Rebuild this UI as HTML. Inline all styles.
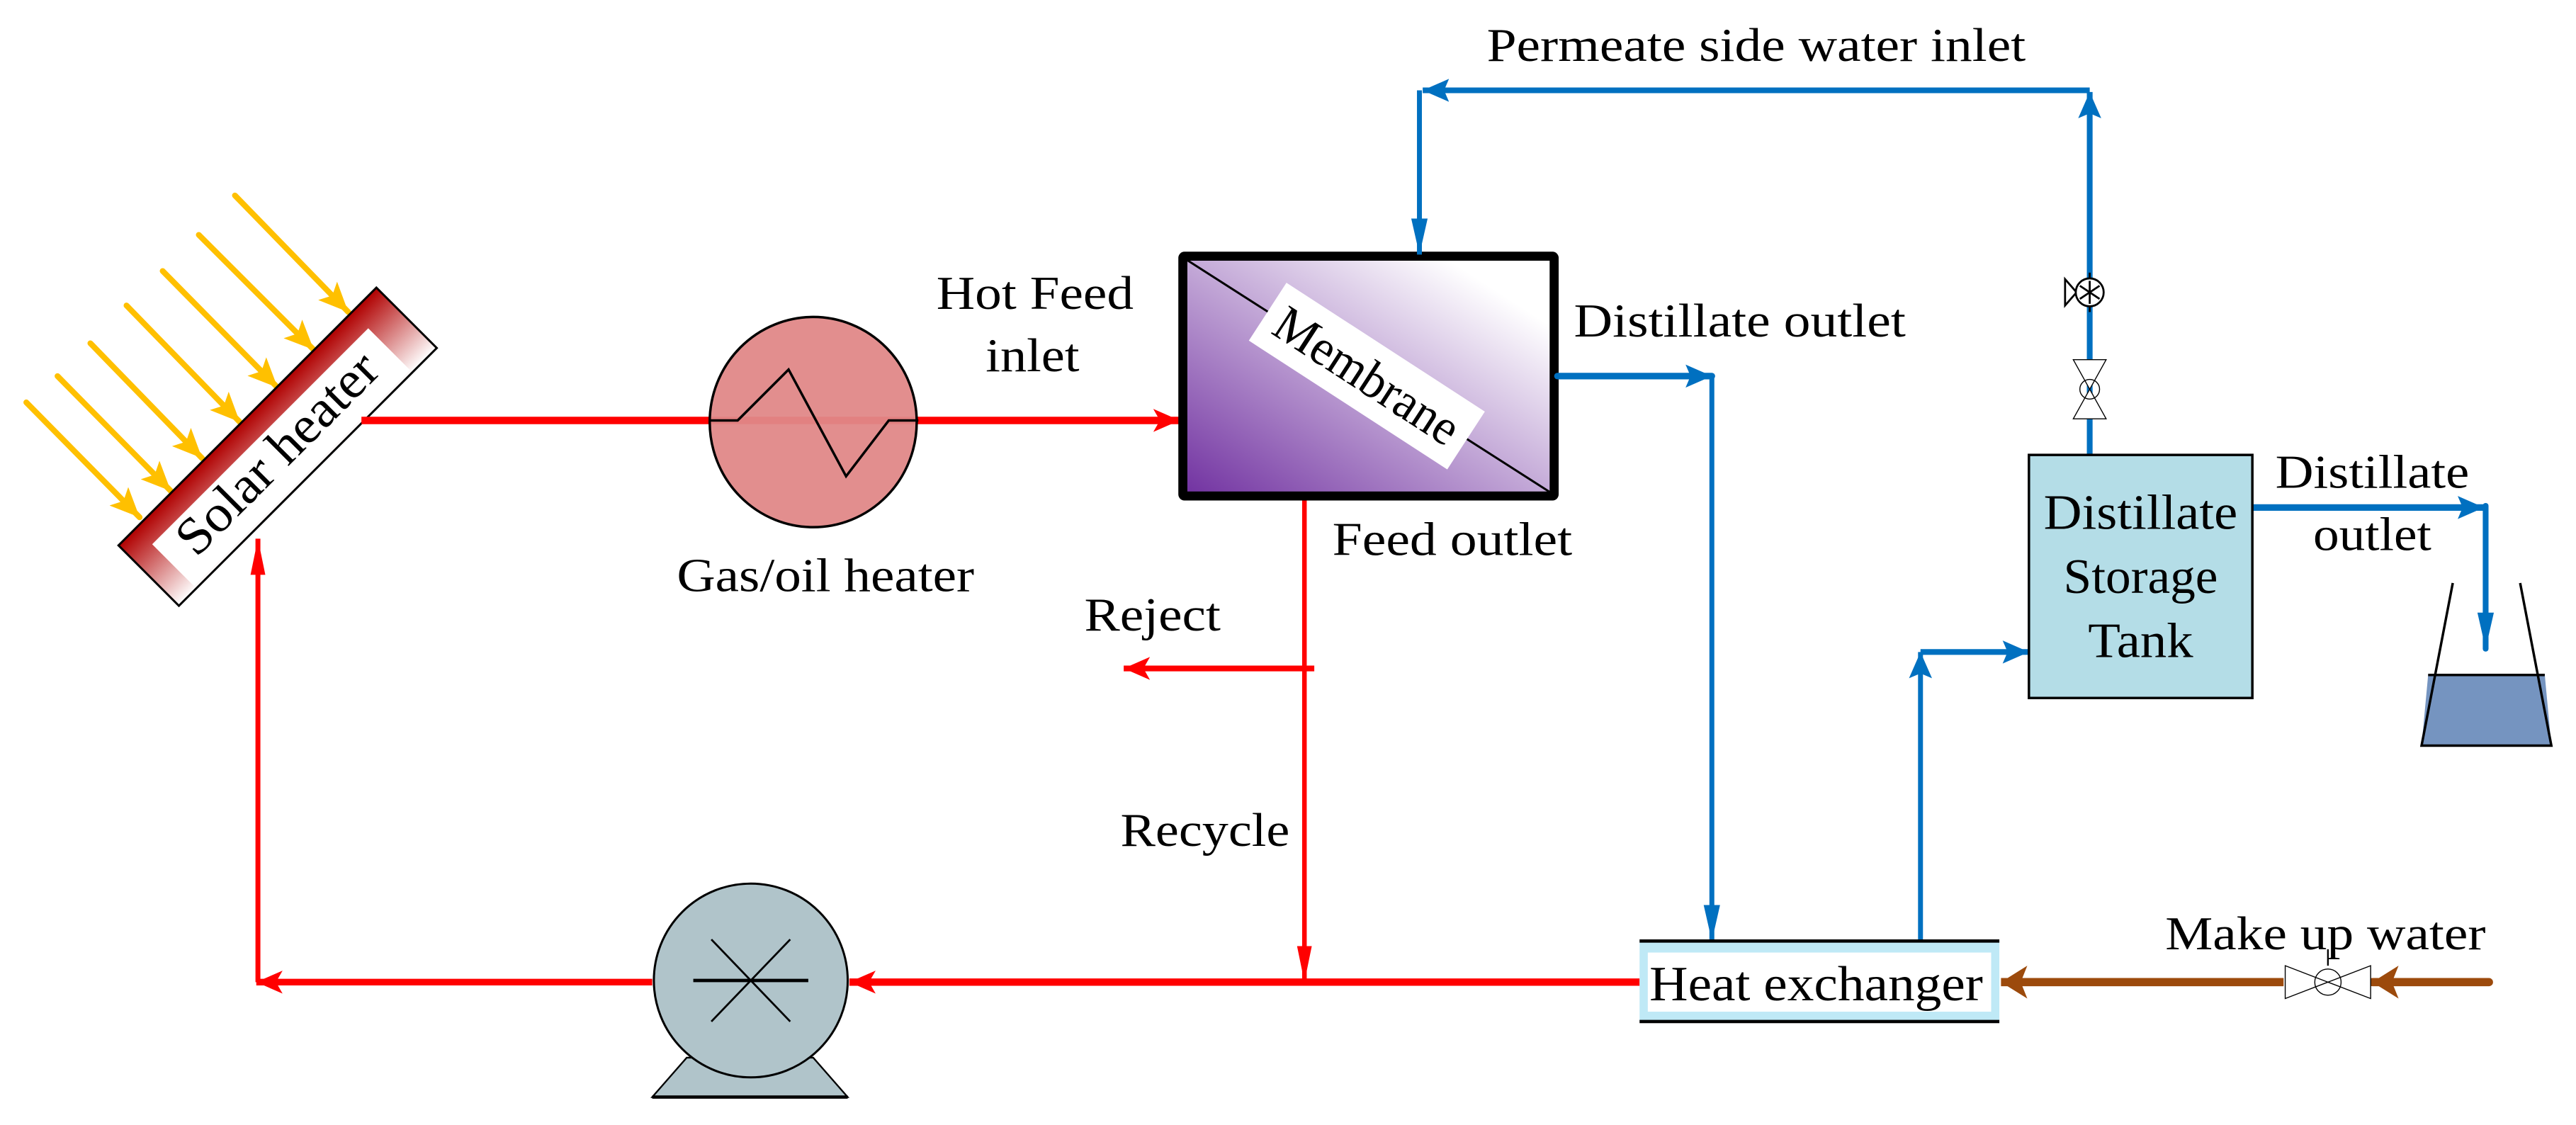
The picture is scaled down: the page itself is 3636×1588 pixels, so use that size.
<!DOCTYPE html>
<html><head><meta charset="utf-8"><style>html,body{margin:0;padding:0;background:#fff}svg{display:block}</style></head><body>
<svg width="3636" height="1588" viewBox="0 0 1568 685" preserveAspectRatio="none" xmlns="http://www.w3.org/2000/svg">
<defs>
<marker id="ar" markerUnits="userSpaceOnUse" markerWidth="18" markerHeight="16" refX="16" refY="8" orient="auto"><path d="M0,1 L16,8 L0,15 L4,8 z" fill="#ff0000"/></marker>
<marker id="ars" markerUnits="userSpaceOnUse" markerWidth="24" markerHeight="10" refX="22" refY="5" orient="auto"><path d="M0,0.5 L22,5 L0,9.5 z" fill="#ff0000"/></marker>
<marker id="ab" markerUnits="userSpaceOnUse" markerWidth="18" markerHeight="16" refX="16" refY="8" orient="auto"><path d="M0,1 L16,8 L0,15 L3,8 z" fill="#0070c0"/></marker>
<marker id="abs" markerUnits="userSpaceOnUse" markerWidth="24" markerHeight="12" refX="22" refY="6" orient="auto"><path d="M0,1 L22,6 L0,11 z" fill="#0070c0"/></marker>
<marker id="aw" markerUnits="userSpaceOnUse" markerWidth="18" markerHeight="20" refX="16" refY="10" orient="auto"><path d="M0,0 L16,10 L0,20 L4,10 z" fill="#9c4a0c"/></marker>
<marker id="ay" markerUnits="userSpaceOnUse" markerWidth="20" markerHeight="16" refX="18" refY="8" orient="auto"><path d="M0,0 L18,8 L0,16 L4,8 z" fill="#ffc000"/></marker>
<linearGradient id="sol" x1="0" y1="0" x2="0" y2="1"><stop offset="0" stop-color="#b00000"/><stop offset="1" stop-color="#ffffff"/></linearGradient>
<linearGradient id="mem" x1="0" y1="1" x2="0.85" y2="0.15"><stop offset="0" stop-color="#7030a0"/><stop offset="1" stop-color="#ffffff"/></linearGradient>
</defs>

<g stroke="#ffc000" stroke-width="3.5" stroke-linecap="round" marker-end="url(#ay)">
<line x1="143" y1="119" x2="212" y2="190"/>
<line x1="121" y1="143" x2="191" y2="213"/>
<line x1="99" y1="165" x2="169" y2="236"/>
<line x1="77" y1="186" x2="146" y2="257"/>
<line x1="55" y1="209" x2="123" y2="279"/>
<line x1="35" y1="229" x2="104" y2="299"/>
<line x1="16" y1="245" x2="85" y2="315"/>
</g>

<g font-family="'Liberation Serif', 'Times New Roman', serif" fill="#000">
<g transform="translate(169,272) rotate(-45)">
<rect x="-111" y="-26" width="222" height="52" fill="url(#sol)" stroke="#000" stroke-width="1.3"/>
<rect x="-96" y="-12" width="186" height="36" fill="#fff"/>
<text x="-3" y="13" font-size="32" text-anchor="middle" textLength="160" lengthAdjust="spacingAndGlyphs">Solar heater</text>
</g>

<g fill="none" stroke="#ff0000">
<path d="M220,256 H718" stroke-width="4.5" marker-end="url(#ar)"/>
<path d="M794,304 V598" stroke-width="2.8" marker-end="url(#ars)"/>
<path d="M800,407 H684" stroke-width="3.5" marker-end="url(#ar)"/>
<path d="M998,598 H517" stroke-width="4.5" marker-end="url(#ar)"/>
<path d="M397,598 H156" stroke-width="4" marker-end="url(#ar)"/>
<path d="M157,598 V328" stroke-width="3" marker-end="url(#ars)"/>
</g>

<ellipse cx="495" cy="257" rx="63" ry="64" fill="#e08888" fill-opacity="0.95" stroke="#000" stroke-width="1.5"/>
<polyline points="432,256 449,256 480,225 515,290 541,256 559,256" fill="none" stroke="#000" stroke-width="1.5"/>
<text x="412" y="360" font-size="29" textLength="181" lengthAdjust="spacingAndGlyphs">Gas/oil heater</text>

<rect x="720" y="156" width="226" height="146" fill="url(#mem)" stroke="#000" stroke-width="5.5" rx="1"/>
<line x1="722" y1="158" x2="944" y2="300" stroke="#000" stroke-width="1.3"/>
<g transform="translate(832,229) rotate(33)">
<rect x="-72" y="-21" width="144" height="42" fill="#fff"/>
<text x="0" y="10" font-size="31" text-anchor="middle" textLength="128" lengthAdjust="spacingAndGlyphs">Membrane</text>
</g>

<g fill="none" stroke="#0070c0">
<path d="M1272,278 V56" stroke-width="3.5" marker-end="url(#ab)"/>
<path d="M1272,55 H866" stroke-width="3.5" marker-end="url(#ab)"/>
<path d="M864,55 V155" stroke-width="3" marker-end="url(#abs)"/>
<path d="M948,229 H1042" stroke-width="4" stroke-linecap="round" marker-end="url(#ab)"/>
<path d="M1042,229 V573" stroke-width="3" marker-end="url(#abs)"/>
<path d="M1169,573 V397" stroke-width="3" marker-end="url(#ab)"/>
<path d="M1169,397 H1235" stroke-width="3.5" marker-end="url(#ab)"/>
<path d="M1371,309 H1512" stroke-width="4" stroke-linecap="round" marker-end="url(#ab)"/>
<path d="M1513,308 V395" stroke-width="3.5" stroke-linecap="round" marker-end="url(#abs)"/>
</g>

<g stroke="#000" stroke-width="1.2" fill="#fff">
<line x1="1272" y1="166" x2="1272" y2="190"/>
<polygon points="1257,170 1264,178 1257,186"/>
<circle cx="1272" cy="178" r="8.5"/>
<line x1="1272" y1="171" x2="1272" y2="185"/>
<line x1="1266" y1="174" x2="1278" y2="182"/>
<line x1="1278" y1="174" x2="1266" y2="182"/>
</g>
<g stroke="#000" stroke-width="0.6" fill="#fff">
<polygon points="1262,219 1282,219 1272,237"/>
<polygon points="1262,255 1282,255 1272,237"/>
<circle cx="1272" cy="237" r="6" fill="none"/>
</g>

<rect x="1235" y="277" width="136" height="148" fill="#b4dde7" stroke="#000" stroke-width="1.5"/>
<text x="1303" y="322" font-size="30" text-anchor="middle" textLength="118" lengthAdjust="spacingAndGlyphs">Distillate</text>
<text x="1303" y="361" font-size="30" text-anchor="middle" textLength="94" lengthAdjust="spacingAndGlyphs">Storage</text>
<text x="1303" y="400" font-size="30" text-anchor="middle" textLength="64" lengthAdjust="spacingAndGlyphs">Tank</text>
<text x="1385" y="297" font-size="29" textLength="118" lengthAdjust="spacingAndGlyphs">Distillate</text>
<text x="1408" y="335" font-size="29" textLength="72" lengthAdjust="spacingAndGlyphs">outlet</text>

<polygon points="1478,411 1549,411 1553,454 1474,454" fill="#7594c0"/>
<g stroke="#000" stroke-width="1.5" fill="none">
<polyline points="1493,355 1474,454 1553,454 1534,355"/>
<line x1="1478" y1="411" x2="1549" y2="411"/>
</g>

<polygon points="418,644 495,644 516,668 397,668" fill="#b0c4ca" stroke="#000" stroke-width="1"/>
<line x1="397" y1="668" x2="516" y2="668" stroke="#000" stroke-width="2"/>
<ellipse cx="457" cy="597" rx="59" ry="59" fill="#b0c4ca" stroke="#000" stroke-width="1.3"/>
<g stroke="#000" stroke-width="1.2">
<line x1="433" y1="572" x2="481" y2="622"/>
<line x1="481" y1="572" x2="433" y2="622"/>
<line x1="422" y1="597" x2="492" y2="597" stroke-width="2"/>
</g>

<rect x="998" y="573" width="219" height="49" fill="#bfe9f6"/>
<rect x="1003" y="580" width="209" height="36" fill="#fff"/>
<line x1="998" y1="573" x2="1217" y2="573" stroke="#000" stroke-width="2"/>
<line x1="998" y1="622" x2="1217" y2="622" stroke="#000" stroke-width="2"/>
<text x="1004" y="609" font-size="30" textLength="203" lengthAdjust="spacingAndGlyphs">Heat exchanger</text>

<g fill="none" stroke="#9c4a0c" stroke-width="5">
<path d="M1515,598 H1444" stroke-linecap="round" marker-end="url(#aw)"/>
<path d="M1390,598 H1218" marker-end="url(#aw)"/>
</g>
<g stroke="#000" stroke-width="0.6" fill="#fff">
<polygon points="1391,588 1391,608 1417,598"/>
<polygon points="1443,588 1443,608 1417,598"/>
<circle cx="1417" cy="598" r="8" fill="none"/>
<line x1="1417" y1="578" x2="1417" y2="588" stroke-width="1"/>
</g>

<text x="905" y="37" font-size="29" textLength="328" lengthAdjust="spacingAndGlyphs">Permeate side water inlet</text>
<text x="570" y="188" font-size="29" textLength="120" lengthAdjust="spacingAndGlyphs">Hot Feed</text>
<text x="600" y="226" font-size="29" textLength="57" lengthAdjust="spacingAndGlyphs">inlet</text>
<text x="958" y="205" font-size="29" textLength="202" lengthAdjust="spacingAndGlyphs">Distillate outlet</text>
<text x="811" y="338" font-size="29" textLength="146" lengthAdjust="spacingAndGlyphs">Feed outlet</text>
<text x="660" y="384" font-size="29" textLength="83" lengthAdjust="spacingAndGlyphs">Reject</text>
<text x="682" y="515" font-size="29" textLength="103" lengthAdjust="spacingAndGlyphs">Recycle</text>
<text x="1318" y="578" font-size="29" textLength="195" lengthAdjust="spacingAndGlyphs">Make up water</text>
</g>
</svg>
</body></html>
